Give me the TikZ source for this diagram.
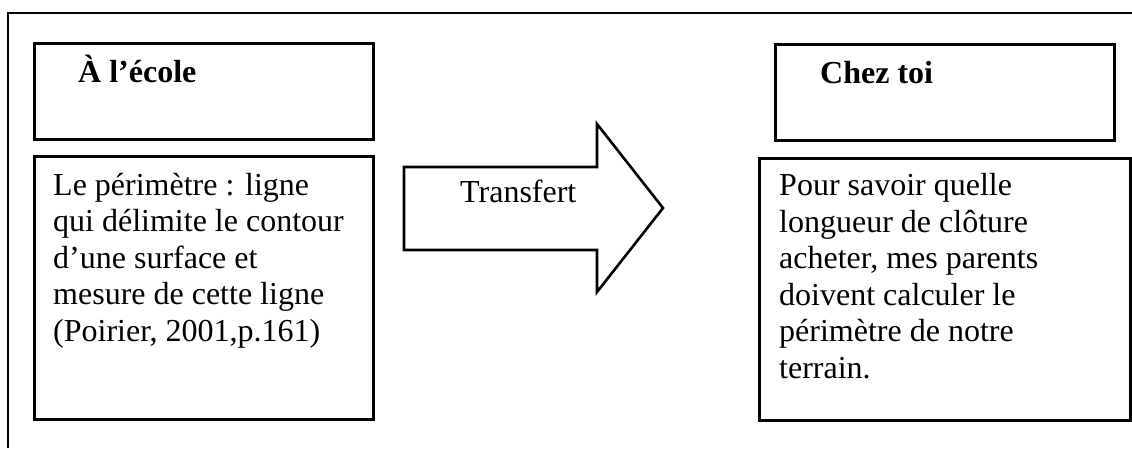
\documentclass[tikz,border=0pt]{standalone}
\usepackage{fontspec}
\setmainfont{Liberation Serif}
\begin{document}
\begin{tikzpicture}[x=1pt,y=-1pt,
  box/.style={draw=black,line width=3pt,inner sep=0pt,anchor=north west},
  frame/.style={draw=black,line width=1.8pt},
  body/.style={anchor=base west,inner sep=0pt,align=left,font=\fontsize{32}{36.5}\selectfont},
  head/.style={anchor=base west,inner sep=0pt,font=\fontsize{32}{36.5}\selectfont\bfseries},
  bigarrow/.style={draw=black,line width=2.6pt,line join=miter}]
\useasboundingbox (0,0) rectangle (1132,448);
% outer frame (left and top edges)
\coordinate (fbl) at (8,448);
\coordinate (ftl) at (8,13);
\coordinate (ftr) at (1132,13);
\draw[frame] (fbl) -- (ftl) -- (ftr);
% boxes
\node[box,minimum width=339pt,minimum height=96pt] (ecolehead) at (33,42) {};
\node[box,minimum width=339pt,minimum height=263pt] (ecolebody) at (33,155) {};
\node[box,minimum width=339pt,minimum height=96pt] (chezhead) at (774,43) {};
\node[box,minimum width=371pt,minimum height=262pt] (chezbody) at (758,157) {};
% texts (base anchor = baseline of the last line)
\node[head] (t1) at (78,82) {À l’école};
\node[head] (t2) at (820,83) {Chez toi};
\node[body] (t3) at (53,341) {Le périmètre : ligne\\qui délimite le contour\\d’une surface et\\mesure de cette ligne\\(Poirier, 2001,p.161)};
\node[body] (t4) at (779,378) {Pour savoir quelle\\longueur de clôture\\acheter, mes parents\\doivent calculer le\\périmètre de notre\\terrain.};
% arrow
\draw[bigarrow] (404,167) -- (597,167) -- (597,124) -- (663,208) -- (597,292) -- (597,250) -- (404,250) -- cycle;
\node[body] (tr) at (460,202) {Transfert};
\end{tikzpicture}
\end{document}
